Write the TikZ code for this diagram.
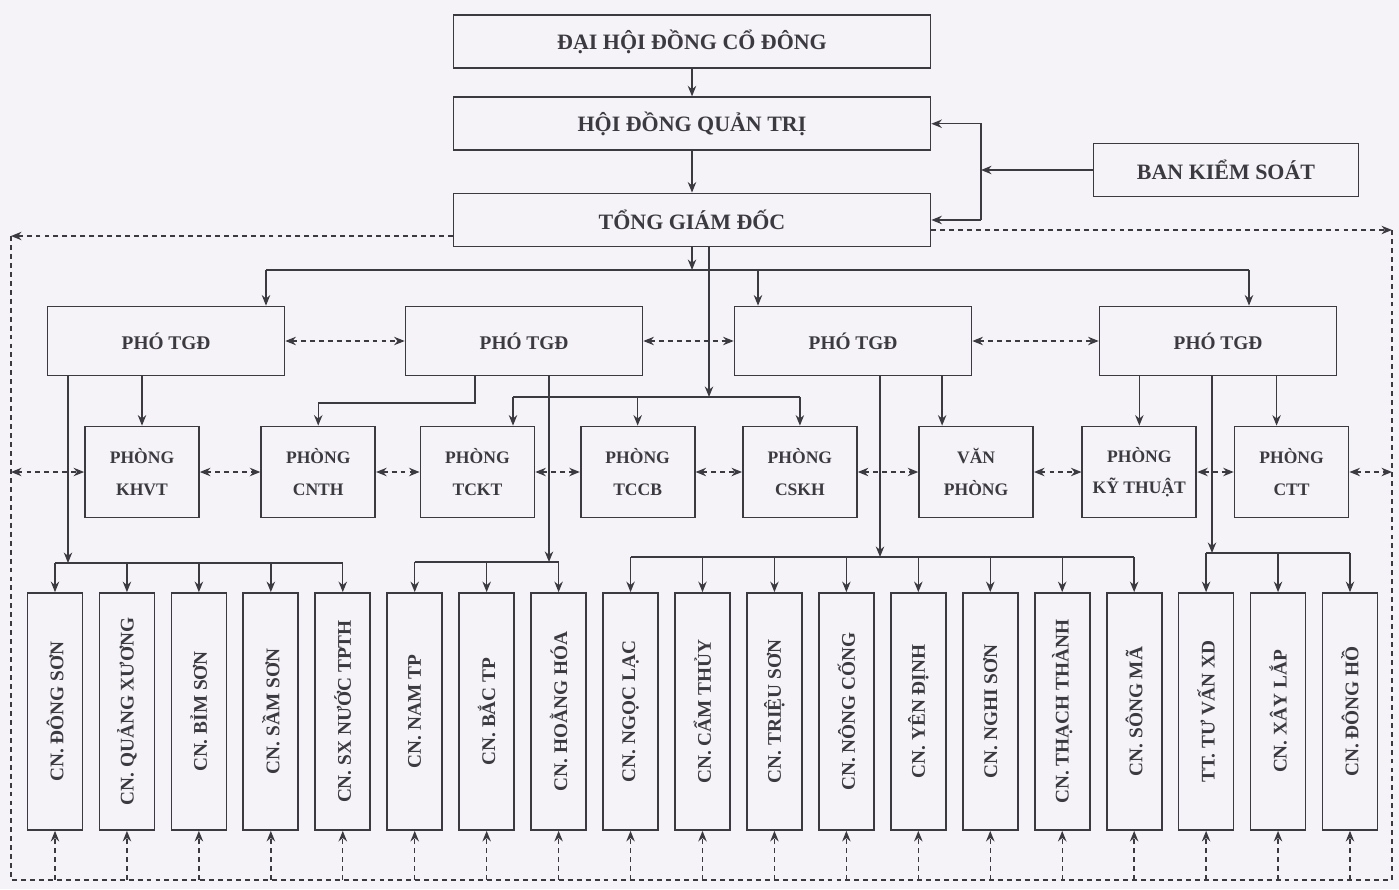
\documentclass[tikz,border=0pt]{standalone}
\usepackage{fontspec}
\setmainfont{Liberation Serif}
\usepackage{xcolor}
\usepackage{tikz}
\usetikzlibrary{positioning,arrows.meta}

\definecolor{ink}{HTML}{3B3A40}
\definecolor{paper}{HTML}{F5F3F8}

\begin{document}
\begin{tikzpicture}[
    x=0.02cm, y=-0.02cm,
    node distance=0.304cm,
    every node/.style={text=ink},
    topbox/.style={rectangle, draw=ink, line width=1pt, minimum width=9.54cm, minimum height=1.06cm, font=\fontsize{12.5}{15}\selectfont\bfseries},
    vicebox/.style={rectangle, draw=ink, line width=1pt, minimum width=4.74cm, minimum height=1.38cm, font=\fontsize{11}{13}\selectfont\bfseries},
    deptbox/.style={rectangle, draw=ink, line width=1pt, minimum width=2.28cm, minimum height=1.82cm, align=center, font=\fontsize{10}{18}\selectfont\bfseries},
    branch/.style={rectangle, draw=ink, line width=1pt, minimum width=1.1cm, minimum height=4.74cm, font=\fontsize{11}{13}\selectfont\bfseries},
    arrow/.style={-{Stealth[length=6pt,width=4.8pt]}, draw=ink, line width=0.8pt},
    link/.style={{Stealth[length=6pt,width=4.8pt]}-{Stealth[length=6pt,width=4.8pt]}, draw=ink, line width=0.8pt, dash pattern=on 2.8pt off 2.3pt},
    uplink/.style={-{Stealth[length=6pt,width=4.8pt]}, draw=ink, line width=0.8pt, dash pattern=on 2.8pt off 2.3pt},
    dashline/.style={draw=ink, line width=0.8pt, dash pattern=on 2.8pt off 2.3pt}
]

\fill[paper] (0,0) rectangle (1399,889);
\useasboundingbox (0,0) rectangle (1399,889);

% top management
\node[topbox] (dhdcd) at (692,41.5) {ĐẠI HỘI ĐỒNG CỔ ĐÔNG};
\node[topbox, below=0.55cm of dhdcd] (hdqt) {HỘI ĐỒNG QUẢN TRỊ};
\node[topbox, below=0.83cm of hdqt] (tgd) {TỔNG GIÁM ĐỐC};
\node[topbox, minimum width=5.3cm] (bks) at (1226,170) {BAN KIỂM SOÁT};

% deputies
\node[vicebox] (pho1) at (166,341) {PHÓ TGĐ};
\node[vicebox] (pho2) at (524,341) {PHÓ TGĐ};
\node[vicebox] (pho3) at (853,341) {PHÓ TGĐ};
\node[vicebox] (pho4) at (1218,341) {PHÓ TGĐ};

% departments
\node[deptbox] (khvt) at (142,472) {PHÒNG\\KHVT};
\node[deptbox, right=1.21cm of khvt] (cnth) {PHÒNG\\CNTH};
\node[deptbox, right=0.87cm of cnth] (tckt) {PHÒNG\\TCKT};
\node[deptbox, right=0.89cm of tckt] (tccb) {PHÒNG\\TCCB};
\node[deptbox, right=0.93cm of tccb] (cskh) {PHÒNG\\CSKH};
\node[deptbox, right=1.21cm of cskh] (vanphong) {VĂN\\PHÒNG};
\node[deptbox, right=0.95cm of vanphong] (kythuat) {PHÒNG\\KỸ THUẬT};
\node[deptbox, right=0.73cm of kythuat] (ctt) {PHÒNG\\CTT};

% branches
\node[branch] (cn1) at (55,711.5) {\rotatebox{90}{CN. ĐÔNG SƠN}};
\node[branch, right=of cn1] (cn2) {\rotatebox{90}{CN. QUẢNG XƯƠNG}};
\node[branch, right=of cn2] (cn3) {\rotatebox{90}{CN. BỈM SƠN}};
\node[branch, right=of cn3] (cn4) {\rotatebox{90}{CN. SẦM SƠN}};
\node[branch, right=of cn4] (cn5) {\rotatebox{90}{CN. SX NƯỚC TPTH}};
\node[branch, right=of cn5] (cn6) {\rotatebox{90}{CN. NAM TP}};
\node[branch, right=of cn6] (cn7) {\rotatebox{90}{CN. BẮC TP}};
\node[branch, right=of cn7] (cn8) {\rotatebox{90}{CN. HOẰNG HÓA}};
\node[branch, right=of cn8] (cn9) {\rotatebox{90}{CN. NGỌC LẠC}};
\node[branch, right=of cn9] (cn10) {\rotatebox{90}{CN. CẨM THỦY}};
\node[branch, right=of cn10] (cn11) {\rotatebox{90}{CN. TRIỆU SƠN}};
\node[branch, right=of cn11] (cn12) {\rotatebox{90}{CN. NÔNG CỐNG}};
\node[branch, right=of cn12] (cn13) {\rotatebox{90}{CN. YÊN ĐỊNH}};
\node[branch, right=of cn13] (cn14) {\rotatebox{90}{CN. NGHI SƠN}};
\node[branch, right=of cn14] (cn15) {\rotatebox{90}{CN. THẠCH THÀNH}};
\node[branch, right=of cn15] (cn16) {\rotatebox{90}{CN. SÔNG MÃ}};
\node[branch, right=of cn16] (cn17) {\rotatebox{90}{TT. TƯ VẤN XD}};
\node[branch, right=of cn17] (cn18) {\rotatebox{90}{CN. XÂY LẮP}};
\node[branch, right=of cn18] (cn19) {\rotatebox{90}{CN. ĐÔNG HỒ}};

% junction points
\coordinate (ks) at (981,0);
\coordinate (t1) at (266,270);
\coordinate (t3) at (758,270);
\coordinate (t4) at (1249,270);
\coordinate (p0) at (709,397);
\coordinate (p1) at (513,397);
\coordinate (k2) at (475,403);
\coordinate (q1) at (68,563);
\coordinate (q2) at (549,562);
\coordinate (q3) at (880,557);
\coordinate (q4) at (1212,553);
\coordinate (nw) at (11,236);
\coordinate (sw) at (11,880);
\coordinate (se) at (1392,880);
\coordinate (ne) at (1392,230);

% top lines
\draw[arrow] (dhdcd) -- (hdqt);
\draw[arrow] (hdqt) -- (tgd);
\draw[arrow] (bks.west) -- (bks.west -| ks);
\draw[arrow] (ks |- tgd.east) |- (hdqt.east);
\draw[arrow] (ks |- tgd.east) -- (tgd.east);

\draw[arrow] (tgd.south) -- (tgd.south |- t1);
\draw[ink, line width=0.8pt] (t1) -- (t4);
\draw[arrow] (t1) -- (t1 |- pho1.north);
\draw[arrow] (t3) -- (t3 |- pho3.north);
\draw[arrow] (t4) -- (t4 |- pho4.north);

% departments under the director
\draw[arrow] (tgd.south -| p0) -- (p0);
\draw[ink, line width=0.8pt] (p1) -- (p1 -| cskh.north);
\draw[arrow] (p1) -- (p1 |- tckt.north);
\draw[arrow] (p1 -| tccb.north) -- (tccb.north);
\draw[arrow] (p1 -| cskh.north) -- (cskh.north);

% deputies to departments
\draw[arrow] (pho1.south -| khvt.north) -- (khvt.north);
\draw[arrow] (pho2.south -| k2) -- (k2) -| (cnth.north);
\draw[arrow] ([xshift=-0.68cm]vanphong.north |- pho3.south) -- ([xshift=-0.68cm]vanphong.north);
\draw[arrow] (pho4.south -| kythuat.north) -- (kythuat.north);
\draw[arrow] ([xshift=-0.3cm]ctt.north |- pho4.south) -- ([xshift=-0.3cm]ctt.north);

% deputies to branches
\draw[arrow] (pho1.south -| q1) -- (q1);
\draw[ink, line width=0.8pt] (q1 -| cn1.north) -- (q1 -| cn5.north);
\path (cn1 |- q1) edge[arrow] (cn1) (cn2 |- q1) edge[arrow] (cn2) (cn3 |- q1) edge[arrow] (cn3)
      (cn4 |- q1) edge[arrow] (cn4) (cn5 |- q1) edge[arrow] (cn5);

\draw[arrow] (pho2.south -| q2) -- (q2);
\draw[ink, line width=0.8pt] (q2 -| cn6.north) -- (q2 -| cn8.north);
\path (cn6 |- q2) edge[arrow] (cn6) (cn7 |- q2) edge[arrow] (cn7) (cn8 |- q2) edge[arrow] (cn8);

\draw[arrow] (pho3.south -| q3) -- (q3);
\draw[ink, line width=0.8pt] (q3 -| cn9.north) -- (q3 -| cn16.north);
\path (cn9 |- q3) edge[arrow] (cn9) (cn10 |- q3) edge[arrow] (cn10) (cn11 |- q3) edge[arrow] (cn11)
      (cn12 |- q3) edge[arrow] (cn12) (cn13 |- q3) edge[arrow] (cn13) (cn14 |- q3) edge[arrow] (cn14)
      (cn15 |- q3) edge[arrow] (cn15) (cn16 |- q3) edge[arrow] (cn16);

\draw[arrow] (pho4.south -| q4) -- (q4);
\draw[ink, line width=0.8pt] (q4 -| cn17.north) -- (q4 -| cn19.north);
\path (cn17 |- q4) edge[arrow] (cn17) (cn18 |- q4) edge[arrow] (cn18) (cn19 |- q4) edge[arrow] (cn19);

% dashed coordination
\draw[link] (pho1) -- (pho2);
\draw[link] (pho2) -- (pho3);
\draw[link] (pho3) -- (pho4);

\draw[link] (khvt.west -| nw) -- (khvt.west);
\draw[link] (khvt) -- (cnth);
\draw[link] (cnth) -- (tckt);
\draw[link] (tckt) -- (tccb);
\draw[link] (tccb) -- (cskh);
\draw[link] (cskh) -- (vanphong);
\draw[link] (vanphong) -- (kythuat);
\draw[link] (kythuat) -- (ctt);
\draw[link] (ctt.east) -- (ctt.east -| ne);

\draw[uplink] (tgd.west |- nw) -- (nw);
\draw[uplink] (tgd.east |- ne) -- (ne);
\draw[dashline] (nw) -- (sw) -- (se) -- (ne);

\path (cn1 |- sw) edge[uplink] (cn1) (cn2 |- sw) edge[uplink] (cn2) (cn3 |- sw) edge[uplink] (cn3)
      (cn4 |- sw) edge[uplink] (cn4) (cn5 |- sw) edge[uplink] (cn5) (cn6 |- sw) edge[uplink] (cn6)
      (cn7 |- sw) edge[uplink] (cn7) (cn8 |- sw) edge[uplink] (cn8) (cn9 |- sw) edge[uplink] (cn9)
      (cn10 |- sw) edge[uplink] (cn10) (cn11 |- sw) edge[uplink] (cn11) (cn12 |- sw) edge[uplink] (cn12)
      (cn13 |- sw) edge[uplink] (cn13) (cn14 |- sw) edge[uplink] (cn14) (cn15 |- sw) edge[uplink] (cn15)
      (cn16 |- sw) edge[uplink] (cn16) (cn17 |- sw) edge[uplink] (cn17) (cn18 |- sw) edge[uplink] (cn18)
      (cn19 |- sw) edge[uplink] (cn19);

\end{tikzpicture}
\end{document}
